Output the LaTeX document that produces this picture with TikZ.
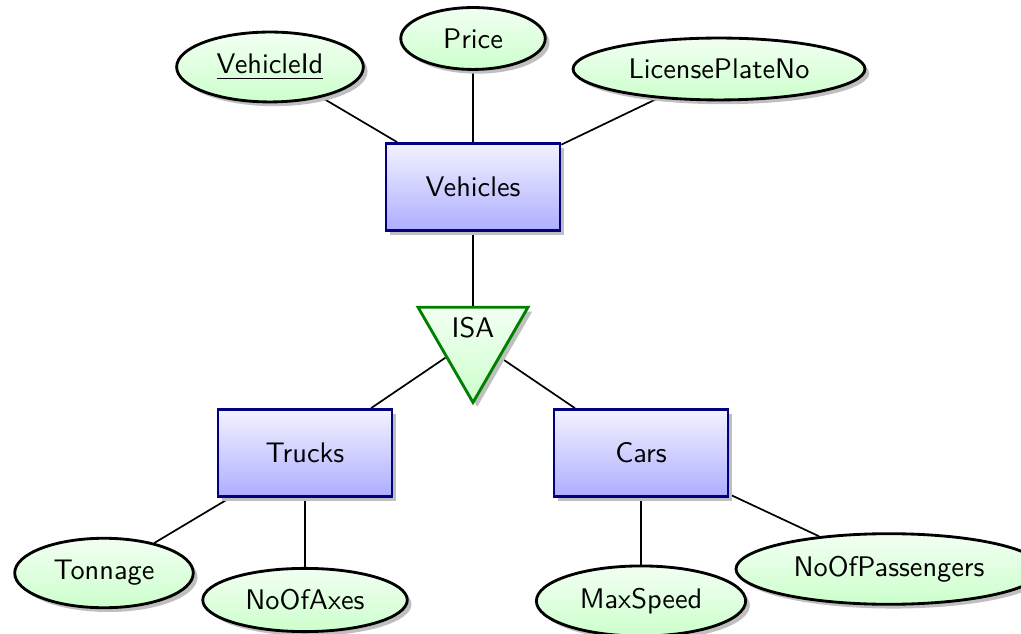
\documentclass[tikz,border=0pt]{standalone}
\usetikzlibrary{shapes.geometric,shadows,backgrounds}
\begin{document}
\begin{tikzpicture}[x=0.353pt,y=-0.353pt,
  font=\sffamily,
  shadowed/.style={drop shadow={shadow xshift=1.5pt, shadow yshift=-1.5pt,
      fill=black!25, opacity=1}},
  entity/.style={rectangle, draw=blue!50!black, line width=1pt,
      top color=blue!5, bottom color=blue!32,
      minimum width=61.4pt, minimum height=30.7pt, shadowed},
  attribute/.style={ellipse, draw=black, line width=1pt,
      top color=green!5, bottom color=green!20,
      inner xsep=4.5pt, inner ysep=4.2pt, minimum width=51pt, shadowed},
  isa/.style={regular polygon, regular polygon sides=3, shape border rotate=180,
      draw=green!50!black, line width=1pt,
      top color=green!5, bottom color=green!20,
      inner sep=0pt, minimum size=44.8pt, shadowed},
  link/.style={draw=black, line width=0.6pt}]
\useasboundingbox (0,0) rectangle (1021,634);

% entities
\node[entity] (veh) at (473,187) {Vehicles};
\node[entity] (trucks) at (305,453) {Trucks};
\node[entity] (cars) at (641,453) {Cars};

% specialisation
\node[isa, label={[yshift=4pt]center:ISA}] (isa) at (473,339) {};

% attributes
\node[attribute] (vid) at (270,67) {\underline{VehicleId}};
\node[attribute] (price) at (473,38.5) {Price};
\node[attribute] (lpn) at (719,69) {LicensePlateNo};
\node[attribute] (ton) at (104,573) {Tonnage};
\node[attribute] (axes) at (305,600) {NoOfAxes};
\node[attribute] (speed) at (641,601) {MaxSpeed};
\node[attribute] (pass) at (889,569) {NoOfPassengers};

% connectors
\begin{scope}[on background layer]
  \draw[link] (veh) -- (vid);
  \draw[link] (veh) -- (price);
  \draw[link] (veh) -- (lpn);
  \draw[link] (veh) -- (isa);
  \draw[link] (isa) -- (trucks);
  \draw[link] (isa) -- (cars);
  \draw[link] (trucks) -- (ton);
  \draw[link] (trucks) -- (axes);
  \draw[link] (cars) -- (speed);
  \draw[link] (cars) -- (pass);
\end{scope}
\end{tikzpicture}
\end{document}
